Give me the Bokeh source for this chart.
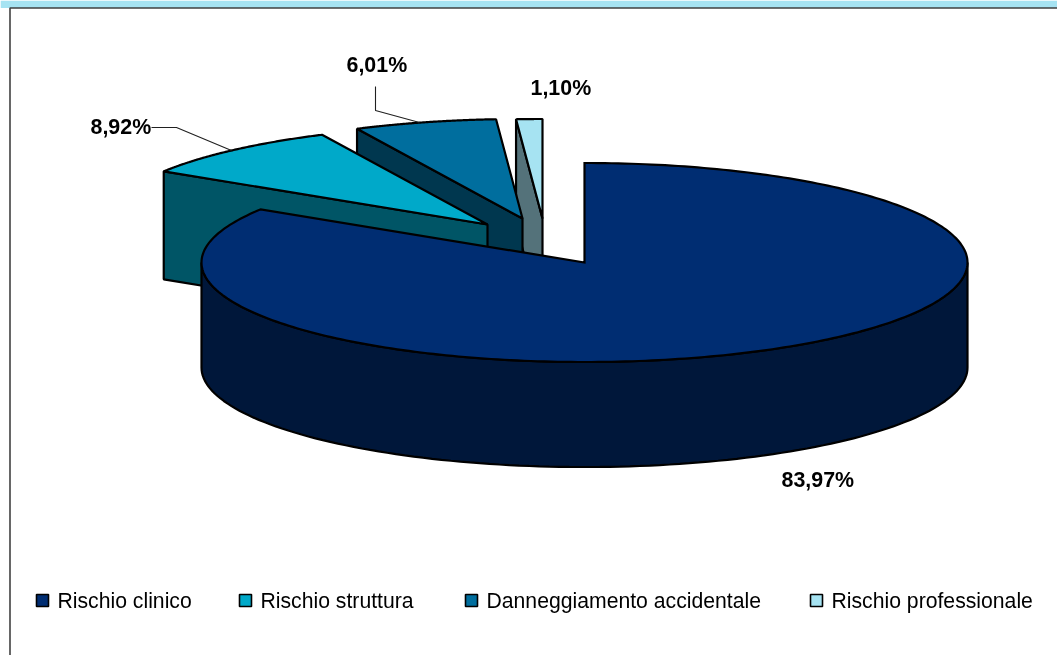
import numpy as np
from bokeh.plotting import figure
from bokeh.embed import file_html
from bokeh.resources import INLINE
from bokeh.core.properties import value

# --- data ---
categories = ["Rischio clinico", "Rischio struttura", "Danneggiamento accidentale", "Rischio professionale"]
shares = [83.97, 8.92, 6.01, 1.10]
share_labels = ["83,97%", "8,92%", "6,01%", "1,10%"]
top_colors = ["#002D72", "#00A9C9", "#006E9E", "#A6E3F2"]
wall_colors = ["#00173A", "#005566", "#00374F", "#54727A"]

# --- layout (page pixels) ---
W, H = 1057, 655
CX, CY, RX, RY, DEPTH = 584.0, 262.0, 383.0, 99.5, 105.0
TIPS = [(CX, CY), (487.0, 224.0), (522.0, 218.0), (542.0, 218.0)]
WALL_DROP = [DEPTH, 108.0, DEPTH, DEPTH]
LABEL_X = [781, 90, 346, 530]
LABEL_Y = [479, 126.5, 64.5, 87]
LEG_BOX_X = [42, 245, 471, 816]
LEG_TEXT_X = [57, 260, 486, 831]
LEG_Y = 600
FONT = value("Liberation Sans")

p = figure(width=W, height=H, x_range=(0, W), y_range=(H, 0),
           output_backend="svg", toolbar_location=None, min_border=0,
           outline_line_color=None, background_fill_color="white", border_fill_color="white")
p.axis.visible = False
p.grid.visible = False
p.styles = {"position": "fixed", "left": "0", "top": "0"}

# top band and frame
p.quad(left=[0], right=[W], top=[0], bottom=[7.5], fill_color="#A6E3F2", line_color=None)
p.line([9.5, 9.5, W], [H, 7.5, 7.5], line_color="#404040", line_width=1.6)


def arc(tip, a0, a1, n=120):
    t = np.radians(np.linspace(a0, a1, n))
    return tip[0] + RX * np.sin(t), tip[1] - RY * np.cos(t)


edges = np.concatenate([[0], np.cumsum(shares)]) * 3.6
edges[-1] = 360.0
LW = 2.2

# exploded slices, back to front: last one first
for i in [3, 2, 1]:
    tip = TIPS[i]
    ex, ey = arc(tip, edges[i], edges[i], 1)
    drop = WALL_DROP[i]
    p.patch([ex[0], tip[0], tip[0], ex[0]], [ey[0], tip[1], tip[1] + drop, ey[0] + drop],
            fill_color=wall_colors[i], line_color="black", line_width=LW)
    ax, ay = arc(tip, edges[i], edges[i + 1])
    p.patch(np.r_[tip[0], ax], np.r_[tip[1], ay],
            fill_color=top_colors[i], line_color="black", line_width=LW, line_join="bevel")

# main slice: front wall, then top face
fx, fy = arc(TIPS[0], 90, 270)
p.patch(np.r_[fx, fx[::-1]], np.r_[fy, fy[::-1] + DEPTH],
        fill_color=wall_colors[0], line_color="black", line_width=LW)
ax, ay = arc(TIPS[0], edges[0], edges[1], 300)
p.patch(np.r_[CX, ax], np.r_[CY, ay],
        fill_color=top_colors[0], line_color="black", line_width=LW, line_join="miter")

# leader lines
p.line([151, 176, 231], [127, 127, 150], line_color="#202020", line_width=1.1)
p.line([375, 375, 419], [86, 110, 122], line_color="#202020", line_width=1.1)

# value labels
p.text(x=LABEL_X, y=LABEL_Y, text=share_labels, text_font=FONT, text_font_style="bold",
       text_font_size="21.4px", text_baseline="middle", text_align="left", text_color="black")

# legend
p.scatter(x=LEG_BOX_X, y=[LEG_Y] * 4, marker="square", size=12, fill_color=top_colors,
          line_color="black", line_width=1.6)
p.text(x=LEG_TEXT_X, y=[LEG_Y] * 4, text=categories, text_font=FONT,
       text_font_size="21.2px", text_baseline="middle", text_align="left", text_color="black")

open("out.html", "w").write(file_html(p, INLINE))
